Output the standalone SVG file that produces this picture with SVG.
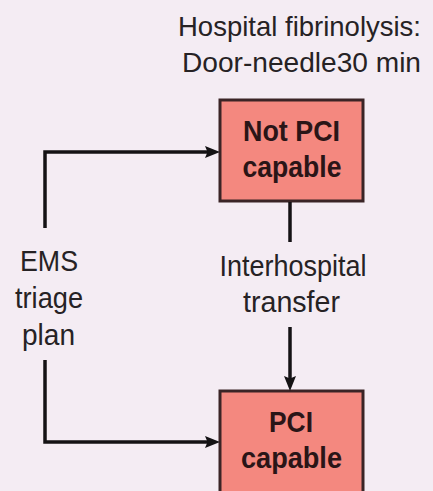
<svg xmlns="http://www.w3.org/2000/svg" width="433" height="491" viewBox="0 0 433 491">
  <style>
    .label { font-family: "Liberation Sans", Arial, sans-serif; font-size: 30px; fill: #262224; }
    .heading { font-family: "Liberation Sans", Arial, sans-serif; font-size: 28.5px; fill: #262224; text-anchor: end; }
    .box { fill: #f4887f; stroke: #3a2426; stroke-width: 3; }
    .box-text { font-family: "Liberation Sans", Arial, sans-serif; font-size: 30px; font-weight: bold; fill: #2a1517; text-anchor: middle; }
    .link { fill: none; stroke: #141214; stroke-width: 3.5; stroke-linejoin: miter; }
  </style>
  <defs>
    <marker id="arrow" markerUnits="userSpaceOnUse" markerWidth="16" markerHeight="14" refX="9" refY="6" orient="auto">
      <path d="M0,0 L15,6 L0,12 L2.5,6 z" fill="#141214"/>
    </marker>
  </defs>

  <rect width="433" height="491" fill="#f4ecf3"/>

  <!-- heading above the non-PCI hospital -->
  <g id="fibrinolysis-note">
    <text class="heading" x="421" y="36" textLength="243" lengthAdjust="spacingAndGlyphs">Hospital fibrinolysis:</text>
    <text class="heading" x="421" y="72" textLength="239" lengthAdjust="spacingAndGlyphs">Door-needle30 min</text>
  </g>

  <g id="not-pci-capable">
    <rect class="box" x="220" y="100" width="143" height="101"/>
    <text class="box-text" x="291.5" y="141" textLength="97" lengthAdjust="spacingAndGlyphs">Not PCI</text>
    <text class="box-text" x="292" y="177" textLength="99" lengthAdjust="spacingAndGlyphs">capable</text>
  </g>

  <g id="pci-capable">
    <rect class="box" x="220" y="391" width="143" height="115"/>
    <text class="box-text" x="291" y="432" textLength="44" lengthAdjust="spacingAndGlyphs">PCI</text>
    <text class="box-text" x="291.5" y="468" textLength="101" lengthAdjust="spacingAndGlyphs">capable</text>
  </g>

  <g id="ems-triage-plan">
    <text class="label" x="49" y="271" text-anchor="middle" textLength="58" lengthAdjust="spacingAndGlyphs">EMS</text>
    <text class="label" x="49" y="308" text-anchor="middle" textLength="68" lengthAdjust="spacingAndGlyphs">triage</text>
    <text class="label" x="48.5" y="345" text-anchor="middle" textLength="53" lengthAdjust="spacingAndGlyphs">plan</text>
  </g>

  <g id="interhospital-transfer">
    <text class="label" x="293" y="276" text-anchor="middle" textLength="147" lengthAdjust="spacingAndGlyphs">Interhospital</text>
    <text class="label" x="291.5" y="312" text-anchor="middle" textLength="97" lengthAdjust="spacingAndGlyphs">transfer</text>
  </g>

  <g id="connectors">
    <path class="link" d="M45,228 V152 H214" marker-end="url(#arrow)"/>
    <path class="link" d="M45,360 V442 H214" marker-end="url(#arrow)"/>
    <path class="link" d="M290,202 V242"/>
    <path class="link" d="M290,327 V385" marker-end="url(#arrow)"/>
  </g>
</svg>
